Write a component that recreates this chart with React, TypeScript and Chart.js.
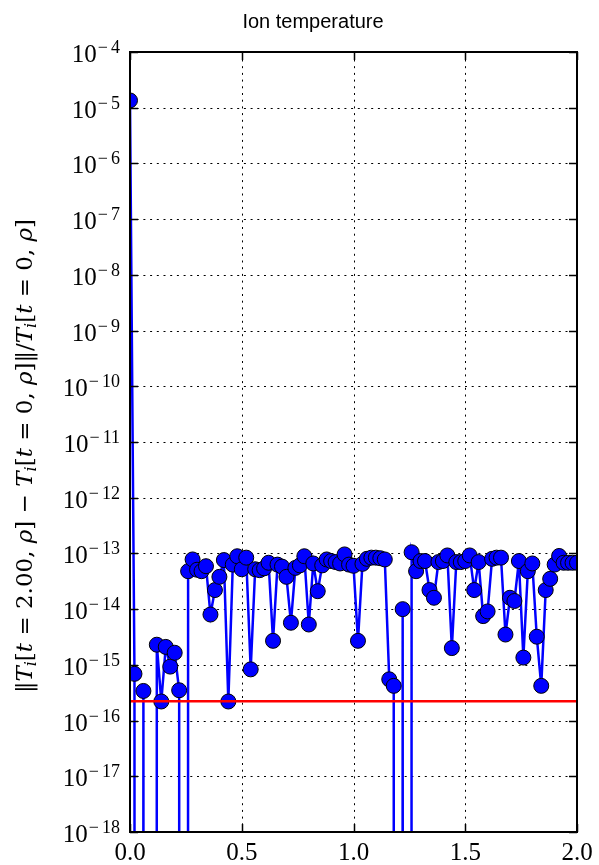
import React, { useEffect, useRef } from 'react';
import { Chart, registerables } from 'chart.js';

Chart.register(...registerables);

const TITLE = 'Ion temperature';

// radial grid rho (x axis); last entry is the off-axis zero point that makes the edge drop
const rho = [
  0, 0.02, 0.04, 0.06, 0.08, 0.1, 0.12, 0.14, 0.16, 0.18,
  0.2, 0.22, 0.24, 0.26, 0.28, 0.3, 0.32, 0.34, 0.36, 0.38,
  0.4, 0.42, 0.44, 0.46, 0.48, 0.5, 0.52, 0.54, 0.56, 0.58,
  0.6, 0.62, 0.64, 0.66, 0.68, 0.7, 0.72, 0.74, 0.76, 0.78,
  0.8, 0.82, 0.84, 0.86, 0.88, 0.9, 0.92, 0.94, 0.96, 0.98,
  1.0, 1.02, 1.04, 1.06, 1.08, 1.1, 1.12, 1.14, 1.16, 1.18,
  1.2, 1.22, 1.24, 1.26, 1.28, 1.3, 1.32, 1.34, 1.36, 1.38,
  1.4, 1.42, 1.44, 1.46, 1.48, 1.5, 1.52, 1.54, 1.56, 1.58,
  1.6, 1.62, 1.64, 1.66, 1.68, 1.7, 1.72, 1.74, 1.76, 1.78,
  1.8, 1.82, 1.84, 1.86, 1.88, 1.9, 1.92, 1.94, 1.96, 1.98,
  2.0, 2.02,
];

// ||Ti[t=2.00,rho] - Ti[t=0,rho]|| / Ti[t=0,rho]   (0 = exactly zero)
const relDiff = [
  1.35e-5, 6.9e-16, 0, 3.4e-16, 0, 0, 2.3e-15, 2.2e-16, 2.1e-15, 9.3e-16,
  1.65e-15, 3.5e-16, 0, 4.8e-14, 7.8e-14, 5.1e-14, 4.8e-14, 5.9e-14, 8.0e-15, 2.2e-14,
  3.8e-14, 7.6e-14, 2.2e-16, 6.3e-14, 8.9e-14, 5.2e-14, 8.4e-14, 8.3e-16, 5.2e-14, 5.0e-14,
  5.4e-14, 6.8e-14, 2.7e-15, 6.3e-14, 5.8e-14, 3.8e-14, 5.7e-15, 5.5e-14, 6.1e-14, 8.9e-14,
  5.3e-15, 6.6e-14, 2.1e-14, 6.1e-14, 7.8e-14, 7.3e-14, 7.0e-14, 6.6e-14, 9.6e-14, 6.3e-14,
  6.0e-14, 2.7e-15, 6.5e-14, 8.0e-14, 8.4e-14, 8.4e-14, 8.2e-14, 7.8e-14, 5.5e-16, 4.2e-16,
  0, 1.0e-14, 0, 1.05e-13, 4.8e-14, 7.3e-14, 7.3e-14, 2.2e-14, 1.6e-14, 7.0e-14,
  7.3e-14, 9.2e-14, 2.0e-15, 7.0e-14, 7.0e-14, 7.3e-14, 9.2e-14, 2.2e-14, 7.0e-14, 7.5e-15,
  9.1e-15, 8.0e-14, 8.4e-14, 8.4e-14, 3.5e-15, 1.6e-14, 1.4e-14, 7.3e-14, 1.35e-15, 4.8e-14,
  6.6e-14, 3.2e-15, 4.2e-16, 2.2e-14, 3.5e-14, 6.3e-14, 9.0e-14, 6.8e-14, 6.8e-14, 6.8e-14,
  6.8e-14, 0,
];

const machineEps = 2.22e-16;
const epsX = [0, 2];

const xTicks = [0, 0.5, 1.0, 1.5, 2.0];
const xTickLabels = ['0.0', '0.5', '1.0', '1.5', '2.0'];
const yTickExponents = [-18, -17, -16, -15, -14, -13, -12, -11, -10, -9, -8, -7, -6, -5, -4];
const yMin = 1e-18;
const yMax = 1e-4;
const ZERO_FLOOR = 1e-300; // where exact zeros are sent on the log axis

const SERIF = '"Liberation Serif", "DejaVu Serif", serif';
const LABEL_SERIF = '"DejaVu Serif", "Liberation Serif", serif';
const SANS = '"Liberation Sans", Arial, sans-serif';

const yLabelPieces: [string, string][] = [
  ['‖', 'n'], ['T', 'i'], ['i', 's'], ['[', 'n'], ['t', 'i'], [' = 2.00, ', 'n'], ['ρ', 'i'], [']', 'n'],
  [' − ', 'n'],
  ['T', 'i'], ['i', 's'], ['[', 'n'], ['t', 'i'], [' = 0, ', 'n'], ['ρ', 'i'], [']‖/', 'n'],
  ['T', 'i'], ['i', 's'], ['[', 'n'], ['t', 'i'], [' = 0, ', 'n'], ['ρ', 'i'], [']', 'n'],
];

const decor = {
  id: 'decor',
  beforeDatasetsDraw(chart: any) {
    const { ctx, chartArea: a, scales } = chart;
    const x = scales.x;
    const y = scales.y;
    ctx.save();
    ctx.beginPath();
    ctx.rect(a.left, a.top, a.right - a.left, a.bottom - a.top);
    ctx.clip();
    ctx.strokeStyle = '#000';
    ctx.lineWidth = 1;
    ctx.setLineDash([2, 4.7]);
    for (const v of xTicks) {
      const px = Math.round(x.getPixelForValue(v)) + 0.5;
      ctx.beginPath();
      ctx.moveTo(px, a.bottom);
      ctx.lineTo(px, a.top);
      ctx.stroke();
    }
    for (const e of yTickExponents) {
      const py = Math.round(y.getPixelForValue(Math.pow(10, e))) + 0.5;
      ctx.beginPath();
      ctx.moveTo(a.left, py);
      ctx.lineTo(a.right, py);
      ctx.stroke();
    }
    ctx.restore();
  },
  afterDatasetsDraw(chart: any) {
    const { ctx, chartArea: a, scales } = chart;
    const x = scales.x;
    const y = scales.y;
    ctx.save();
    ctx.setLineDash([]);
    ctx.strokeStyle = '#000';
    // ticks (inside, all four sides)
    ctx.lineWidth = 1.5;
    const tl = 8;
    for (const v of xTicks) {
      const px = Math.round(x.getPixelForValue(v)) + 0.5;
      ctx.beginPath();
      ctx.moveTo(px, a.bottom); ctx.lineTo(px, a.bottom - tl);
      ctx.moveTo(px, a.top); ctx.lineTo(px, a.top + tl);
      ctx.stroke();
    }
    for (const e of yTickExponents) {
      const py = Math.round(y.getPixelForValue(Math.pow(10, e))) + 0.5;
      ctx.beginPath();
      ctx.moveTo(a.left, py); ctx.lineTo(a.left + tl, py);
      ctx.moveTo(a.right, py); ctx.lineTo(a.right - tl, py);
      ctx.stroke();
    }
    // frame
    ctx.lineWidth = 2;
    ctx.strokeRect(a.left, a.top, a.right - a.left, a.bottom - a.top);

    // x tick labels
    ctx.fillStyle = '#000';
    ctx.font = `25px ${SERIF}`;
    ctx.textAlign = 'center';
    ctx.textBaseline = 'alphabetic';
    xTicks.forEach((v, i) => {
      ctx.fillText(xTickLabels[i], x.getPixelForValue(v), a.bottom + 28);
    });

    // y tick labels 10^e
    ctx.textAlign = 'left';
    for (const e of yTickExponents) {
      const py = y.getPixelForValue(Math.pow(10, e));
      const digits = String(-e);
      ctx.font = `18px ${SERIF}`;
      const wMinus = ctx.measureText('−').width + 3;
      const wDigits = ctx.measureText(digits).width;
      ctx.font = `25px ${SERIF}`;
      const wBase = ctx.measureText('10').width;
      const right = a.left - 10;
      const start = right - wDigits - wMinus - wBase - 1;
      ctx.fillText('10', start, py + 10);
      ctx.font = `18px ${SERIF}`;
      ctx.fillText('−', start + wBase + 1, py + 1);
      ctx.fillText(digits, right - wDigits, py + 1);
    }

    // title
    ctx.font = `20px ${SANS}`;
    ctx.textAlign = 'center';
    ctx.fillText(TITLE, 313, a.top - 24);

    // y axis label (rotated)
    const fontFor = (k: string) =>
      k === 'i' ? `italic 23px ${LABEL_SERIF}` : k === 's' ? `italic 16px ${LABEL_SERIF}` : `23px ${LABEL_SERIF}`;
    let total = 0;
    for (const [t, k] of yLabelPieces) {
      ctx.font = fontFor(k);
      total += ctx.measureText(t).width;
    }
    ctx.translate(24, (a.top + a.bottom) / 2 + 14);
    ctx.rotate(-Math.PI / 2);
    ctx.textAlign = 'left';
    let cx = -total / 2;
    for (const [t, k] of yLabelPieces) {
      ctx.font = fontFor(k);
      ctx.fillText(t, cx, k === 's' ? 12 : 8);
      cx += ctx.measureText(t).width;
    }
    ctx.restore();
  },
};

export default function App() {
  const ref = useRef<HTMLCanvasElement | null>(null);
  useEffect(() => {
    if (!ref.current) return;
    const chart = new Chart(ref.current, {
      type: 'line',
      data: {
        datasets: [
          {
            label: 'relative difference',
            data: rho.map((r, i) => ({ x: r, y: relDiff[i] > 0 ? relDiff[i] : ZERO_FLOOR })),
            borderColor: '#0000ff',
            backgroundColor: '#0000ff',
            borderWidth: 2.5,
            pointRadius: 7.5,
            pointBackgroundColor: '#0000ff',
            pointBorderColor: '#000000',
            pointBorderWidth: 1,
            tension: 0,
            clip: 0,
            order: 1,
          },
          {
            label: 'machine epsilon',
            data: epsX.map((r) => ({ x: r, y: machineEps })),
            borderColor: '#ff0000',
            borderWidth: 2.5,
            pointRadius: 0,
            tension: 0,
            clip: 0,
            order: 0,
          },
        ],
      },
      options: {
        responsive: false,
        animation: false,
        devicePixelRatio: 1,
        events: [],
        layout: { padding: { top: 52, right: 22, bottom: 0, left: 0 } },
        plugins: {
          legend: { display: false },
          title: { display: false },
          tooltip: { enabled: false },
        },
        scales: {
          x: {
            type: 'linear',
            min: 0,
            max: 2,
            grid: { display: false },
            border: { display: false },
            ticks: { display: false },
            afterFit: (s: any) => { s.height = 33; },
          },
          y: {
            type: 'logarithmic',
            min: yMin,
            max: yMax,
            grid: { display: false },
            border: { display: false },
            ticks: { display: false },
            afterFit: (s: any) => { s.width = 130; },
          },
        },
      },
      plugins: [decor],
    } as any);
    return () => chart.destroy();
  }, []);
  return (
    <div style={{ position: 'absolute', left: 0, top: 0, width: 599, height: 865, background: '#fff' }}>
      <canvas ref={ref} width={599} height={865} style={{ display: 'block' }} />
    </div>
  );
}
